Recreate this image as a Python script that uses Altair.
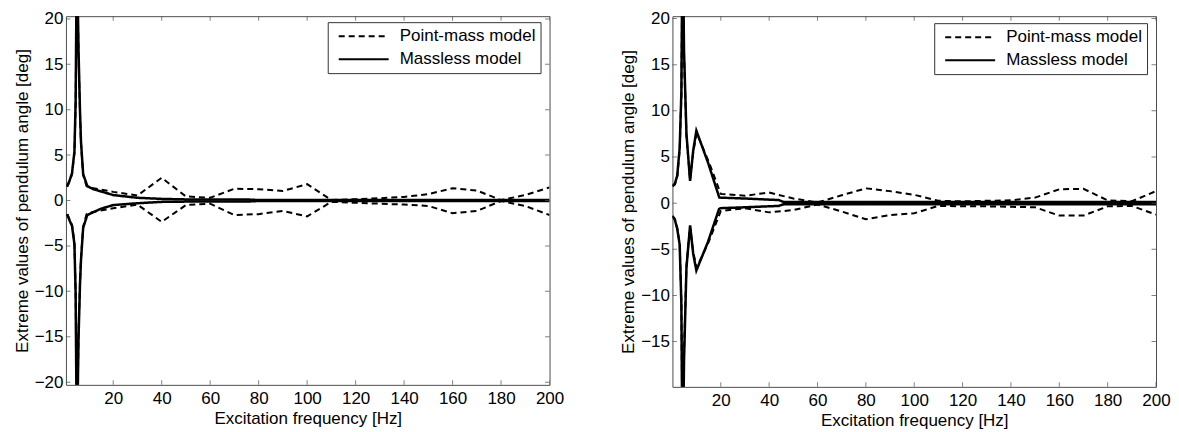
import altair as alt
import pandas as pd

FONT = "Liberation Sans"
FRAME = "#4d4d4d"

X_TICKS = [20, 40, 60, 80, 100, 120, 140, 160, 180, 200]
LEFT_X_DOMAIN = [0.5, 200]
LEFT_Y_DOMAIN = [-20.3, 20.3]
LEFT_Y_TICKS = [-20, -15, -10, -5, 0, 5, 10, 15, 20]
RIGHT_X_DOMAIN = [0, 200]
RIGHT_Y_DOMAIN = [-19.9, 20.25]
RIGHT_Y_TICKS = [-15, -10, -5, 0, 5, 10, 15, 20]

MODELS = ["Point-mass model", "Massless model"]

# ---------------- left panel ----------------
L_ML_F = [1, 2, 3, 4, 4.5, 5, 5.7, 6.3, 6.7, 7.6, 9.3, 11.7, 15, 20, 30, 40, 50, 60, 75, 80, 120, 150, 200]
L_ML_UP = [1.6, 2.2, 3.0, 5.4, 10.9, 28, 16.4, 9.8, 6.5, 2.9, 1.6, 1.25, 1.0, 0.6, 0.3, 0.18, 0.12, 0.12, 0.12, 0.05, 0.05, 0.05, 0.05]
L_ML_LO = [-1.5, -2.2, -2.8, -4.8, -10.3, -28, -15, -9.2, -6.6, -3.0, -1.6, -1.3, -0.9, -0.5, -0.3, -0.15, -0.12, -0.12, -0.12, -0.05, -0.05, -0.05, -0.05]

L_PM_F = [1, 2, 3, 4, 4.5, 5, 5.7, 6.3, 6.7, 7.6, 9, 10, 20, 30, 40, 50, 60, 70, 80, 90, 100, 110, 120, 130, 140, 150, 160, 170, 180, 190, 200]
L_PM_UP = [1.5, 2.1, 2.9, 5.2, 10.5, 27, 16, 9.5, 6.3, 2.8, 1.6, 1.45, 0.95, 0.55, 2.5, 0.45, 0.3, 1.3, 1.25, 1.05, 1.8, 0.05, 0.15, 0.25, 0.4, 0.7, 1.35, 1.1, 0.05, 0.6, 1.45]
L_PM_LO = [-1.5, -2.1, -2.7, -4.6, -10.0, -27, -14.5, -9.0, -6.4, -2.9, -1.5, -1.35, -0.85, -0.45, -2.35, -0.5, -0.35, -1.6, -1.5, -1.15, -1.75, -0.15, -0.25, -0.35, -0.45, -0.6, -1.4, -1.15, -0.05, -0.6, -1.6]

# ---------------- right panel ----------------
R_ML_F = [0, 1, 2, 3, 3.7, 4.2, 4.8, 5.8, 7.3, 8.6, 9.9, 14.7, 19.4, 30, 44, 46, 100, 150, 200]
R_ML_UP = [1.9, 2.1, 3.0, 6.0, 12, 30, 16.5, 7.5, 2.4, 5.7, 7.85, 4.4, 0.6, 0.5, 0.33, 0.12, 0.12, 0.12, 0.12]
R_ML_LO = [-1.4, -1.8, -2.8, -4.5, -11, -30, -17, -7, -2.4, -5.5, -7.3, -4.2, -0.55, -0.45, -0.3, -0.12, -0.12, -0.12, -0.12]

R_PM_F = [0, 1, 2, 3, 3.7, 4.2, 4.8, 5.8, 7.3, 8.6, 10, 15, 20, 30, 40, 50, 60, 70, 80, 90, 100, 110, 120, 130, 140, 150, 160, 170, 180, 190, 200]
R_PM_UP = [1.8, 2.0, 2.9, 5.8, 11.5, 29, 16, 7.3, 2.5, 5.5, 7.6, 4.5, 1.0, 0.8, 1.15, 0.5, 0.07, 0.85, 1.6, 1.3, 0.9, 0.25, 0.2, 0.25, 0.3, 0.6, 1.5, 1.55, 0.3, 0.2, 1.3]
R_PM_LO = [-1.4, -1.7, -2.7, -4.4, -10.5, -29, -16, -6.8, -2.5, -5.3, -7.0, -4.2, -0.85, -0.55, -1.0, -0.75, -0.15, -0.9, -1.75, -1.3, -1.1, -0.3, -0.35, -0.35, -0.4, -0.45, -1.35, -1.35, -0.35, -0.3, -1.25]


def long_frame(f, up, lo, model):
    rows = []
    for fi, vi in zip(f, up):
        rows.append({"f": fi, "v": vi, "model": model, "series": model + " upper"})
    for fi, vi in zip(f, lo):
        rows.append({"f": fi, "v": vi, "model": model, "series": model + " lower"})
    return pd.DataFrame(rows)


def tick_frames(xdom, ydom, yticks):
    xt = pd.DataFrame([{"f": t, "v": y} for t in X_TICKS for y in ydom])
    yt = pd.DataFrame([{"f": x, "v": t} for t in yticks for x in xdom])
    return xt, yt


def legend(ly):
    return alt.Legend(
        title=None, orient="none", legendX=262, legendY=ly,
        symbolType="stroke", symbolSize=2500, symbolStrokeWidth=2,
        symbolStrokeColor="black", labelFont=FONT, labelFontSize=17,
        labelColor="black", strokeColor="#333333", fillColor="white",
        padding=4, clipHeight=20, rowPadding=3, symbolOffset=6, labelOffset=10,
        labelLimit=300,
    )


def panel(pm, ml, xdom, ydom, yticks, width, height, ly):
    xs = alt.Scale(domain=xdom, nice=False, zero=False)
    ys = alt.Scale(domain=ydom, nice=False, zero=False)
    xaxis = alt.Axis(values=X_TICKS, title="Excitation frequency [Hz]", format="d",
                     tickSize=0, domain=False, grid=False, labelPadding=6,
                     titlePadding=4, labelFlush=False)
    yaxis = alt.Axis(values=yticks, title="Extreme values of pendulum angle [deg]",
                     format="d", tickSize=0, domain=False, grid=False,
                     labelPadding=3, titlePadding=3)
    dash = alt.StrokeDash("model:N",
                          scale=alt.Scale(domain=MODELS, range=[[6, 4], [1, 0]]),
                          legend=legend(ly))
    dashed = alt.Chart(pm).mark_line(clip=True, strokeWidth=2, color="black").encode(
        x=alt.X("f:Q", scale=xs, axis=xaxis),
        y=alt.Y("v:Q", scale=ys, axis=yaxis),
        strokeDash=dash,
        detail="series:N",
    )
    solid = alt.Chart(ml).mark_line(clip=True, strokeWidth=2.5, color="black").encode(
        x=alt.X("f:Q", scale=xs, axis=xaxis),
        y=alt.Y("v:Q", scale=ys, axis=yaxis),
        strokeDash=dash,
        detail="series:N",
    )
    xt, yt = tick_frames(xdom, ydom, yticks)
    xticks = alt.Chart(xt).mark_tick(orient="vertical", size=9, thickness=1,
                                     color=FRAME, clip=True).encode(
        x=alt.X("f:Q", scale=xs, axis=xaxis),
        y=alt.Y("v:Q", scale=ys, axis=yaxis),
    )
    yticks_l = alt.Chart(yt).mark_tick(orient="horizontal", size=9, thickness=1,
                                       color=FRAME, clip=True).encode(
        x=alt.X("f:Q", scale=xs, axis=xaxis),
        y=alt.Y("v:Q", scale=ys, axis=yaxis),
    )
    return alt.layer(dashed, solid, xticks, yticks_l).properties(width=width, height=height)


left = panel(long_frame(L_PM_F, L_PM_UP, L_PM_LO, MODELS[0]),
             long_frame(L_ML_F, L_ML_UP, L_ML_LO, MODELS[1]),
             LEFT_X_DOMAIN, LEFT_Y_DOMAIN, LEFT_Y_TICKS, 484, 369, 6)
right = panel(long_frame(R_PM_F, R_PM_UP, R_PM_LO, MODELS[0]),
              long_frame(R_ML_F, R_ML_UP, R_ML_LO, MODELS[1]),
              RIGHT_X_DOMAIN, RIGHT_Y_DOMAIN, RIGHT_Y_TICKS, 484, 371, 7)

chart = alt.hconcat(left, right, spacing=54).resolve_scale(
    x="independent", y="independent", strokeDash="independent"
).resolve_legend(strokeDash="independent").properties(
    padding={"left": 4, "top": 0, "right": 0, "bottom": 0}
).configure_view(stroke=FRAME, strokeWidth=1).configure_axis(
    labelFont=FONT, titleFont=FONT, labelFontSize=17, titleFontSize=17,
    titleFontWeight="normal", labelColor="black", titleColor="black"
)

chart.save("out.html", embed_options={"renderer": "svg", "actions": False})
